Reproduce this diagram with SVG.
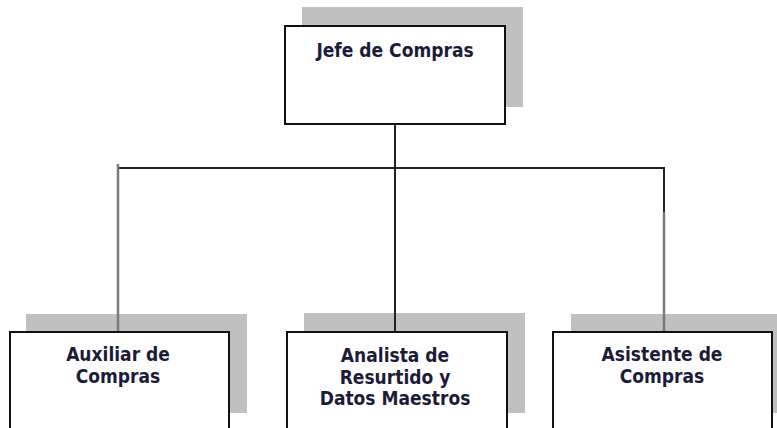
<svg xmlns="http://www.w3.org/2000/svg" width="777" height="428" viewBox="0 0 777 428">
<style>
.shadow{fill:#c0c0c0;}
.box{fill:#ffffff;stroke:#111111;stroke-width:2;}
.lbl{font-family:'DejaVu Sans Condensed','DejaVu Sans',sans-serif;font-weight:bold;font-size:19px;fill:#1c1c38;text-anchor:middle;}
.con{stroke:#222222;stroke-width:2;fill:none;}
.cong{stroke:#7a7a7a;stroke-width:2.5;fill:none;}
</style>
<rect width="777" height="428" fill="#ffffff"/>
<g id="shadows">
<rect class="shadow" x="302" y="7" width="221" height="100"/>
<rect class="shadow" x="26" y="314" width="221" height="99"/>
<rect class="shadow" x="304" y="313" width="221" height="100"/>
<rect class="shadow" x="571" y="314" width="210" height="99"/>
</g>
<g id="connectors">
<line class="con" x1="395" y1="124" x2="395" y2="168"/>
<line class="con" x1="117" y1="168" x2="664" y2="168"/>
<line class="cong" x1="118" y1="164" x2="118" y2="332"/>
<line class="con" x1="395" y1="168" x2="395" y2="332"/>
<line class="con" x1="664" y1="167" x2="664" y2="212"/>
<line class="cong" x1="664" y1="212" x2="664" y2="332"/>
</g>
<g id="jefe">
<rect class="box" x="285" y="26" width="220" height="98"/>
<text class="lbl" x="395" y="57">Jefe de Compras</text>
</g>
<g id="auxiliar">
<path class="box" d="M10,432 V332 H229 V432"/>
<text class="lbl" x="118" y="361">Auxiliar de</text>
<text class="lbl" x="118" y="383">Compras</text>
</g>
<g id="analista">
<path class="box" d="M287,432 V332 H507 V432"/>
<text class="lbl" x="395" y="362">Analista de</text>
<text class="lbl" x="395" y="384">Resurtido y</text>
<text class="lbl" x="395" y="405">Datos Maestros</text>
</g>
<g id="asistente">
<path class="box" d="M553,432 V332 H772 V432"/>
<text class="lbl" x="662" y="361">Asistente de</text>
<text class="lbl" x="662" y="383">Compras</text>
</g>
</svg>
